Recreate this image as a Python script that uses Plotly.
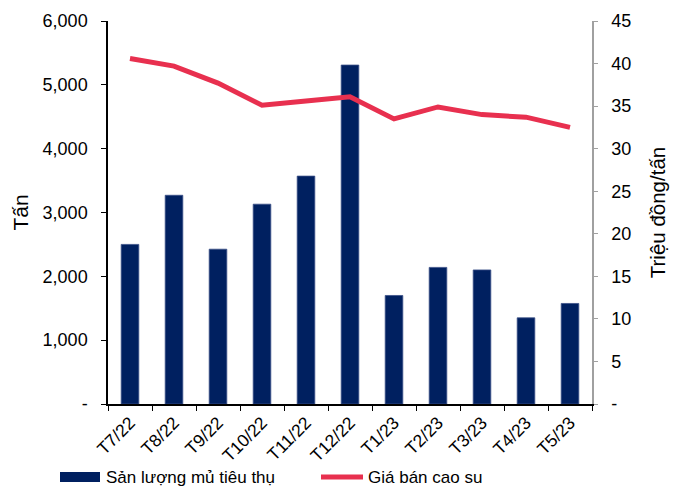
import plotly.graph_objects as go

# Monthly figures
months = ["T7/22", "T8/22", "T9/22", "T10/22", "T11/22", "T12/22",
          "T1/23", "T2/23", "T3/23", "T4/23", "T5/23"]
volume_tons = [2500, 3270, 2425, 3130, 3570, 5310, 1700, 2140, 2100, 1350, 1575]
price_mil_per_ton = [40.6, 39.7, 37.7, 35.1, 35.6, 36.1, 33.5, 34.9, 34.0, 33.7, 32.5]

left_ticks = [0, 1000, 2000, 3000, 4000, 5000, 6000]
left_labels = ["-", "1,000", "2,000", "3,000", "4,000", "5,000", "6,000"]
right_ticks = [0, 5, 10, 15, 20, 25, 30, 35, 40, 45]
right_labels = ["-", "5", "10", "15", "20", "25", "30", "35", "40", "45"]

BAR_COLOR = "#002060"
LINE_COLOR = "#E8304F"
FONT = "Liberation Sans, Arial, sans-serif"
bar_name = "Sản lượng mủ tiêu thụ"
line_name = "Giá bán cao su"

fig = go.Figure()
fig.add_trace(go.Bar(
    x=months, y=volume_tons, name=bar_name,
    marker=dict(color=BAR_COLOR, line=dict(color="#3A4F86", width=0.8)),
    width=0.4, yaxis="y", showlegend=False,
))
fig.add_trace(go.Scatter(
    x=months, y=price_mil_per_ton, name=line_name, mode="lines",
    line=dict(color=LINE_COLOR, width=5), yaxis="y2", showlegend=False,
))

fig.update_layout(
    width=680, height=488,
    margin=dict(l=108, r=88, t=21, b=84),
    paper_bgcolor="white", plot_bgcolor="white",
    font=dict(family=FONT, size=16, color="black"),
    xaxis=dict(
        type="category", showline=True, linecolor="black", linewidth=1.5,
        ticks="outside", ticklen=5, tickcolor="black", tickson="boundaries",
        tickangle=-45, tickfont=dict(size=17.5), showgrid=False, zeroline=False,
    ),
    yaxis=dict(
        range=[0, 6000], tickvals=left_ticks, ticktext=left_labels,
        showline=True, linecolor="black", linewidth=1.5,
        ticks="outside", ticklen=5, tickcolor="black",
        tickfont=dict(size=18), showgrid=False, zeroline=False,
        title=dict(text="Tấn", font=dict(size=21), standoff=8),
        ticklabelstandoff=10,
    ),
    yaxis2=dict(
        range=[0, 45], tickvals=right_ticks, ticktext=right_labels,
        overlaying="y", side="right",
        showline=True, linecolor="#A0A0A0", linewidth=1.5,
        ticks="outside", ticklen=4, tickcolor="#A0A0A0",
        tickfont=dict(size=18), showgrid=False, zeroline=False,
        title=dict(text="Triệu đồng/tấn", font=dict(size=20.5), standoff=20),
        ticklabelstandoff=10,
    ),
)

# Legend keys drawn below the plot
fig.add_shape(type="rect", xref="paper", yref="paper",
              x0=(60 - 108) / 484, x1=(100 - 108) / 484,
              y0=-(482 - 404) / 383, y1=-(472 - 404) / 383,
              fillcolor=BAR_COLOR, line=dict(width=0))
fig.add_shape(type="line", xref="paper", yref="paper",
              x0=(321 - 108) / 484, x1=(363 - 108) / 484,
              y0=-(477 - 404) / 383, y1=-(477 - 404) / 383,
              line=dict(color=LINE_COLOR, width=5))
fig.add_annotation(text=bar_name, xref="paper", yref="paper",
                   x=(104 - 108) / 484, y=-(477 - 404) / 383,
                   xanchor="left", yanchor="middle", showarrow=False,
                   font=dict(size=17))
fig.add_annotation(text=line_name, xref="paper", yref="paper",
                   x=(366 - 108) / 484, y=-(477 - 404) / 383,
                   xanchor="left", yanchor="middle", showarrow=False,
                   font=dict(size=17))

fig.write_html("out.html")
